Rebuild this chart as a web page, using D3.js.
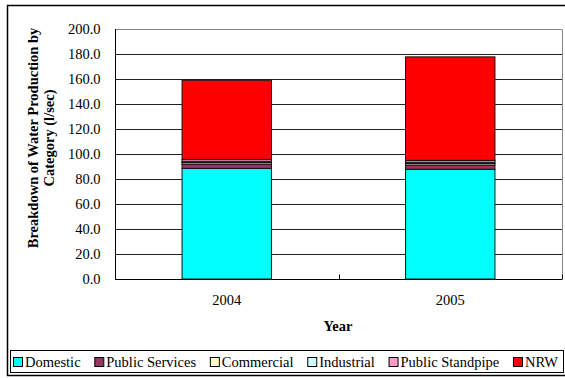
<!DOCTYPE html>
<html><head><meta charset="utf-8">
<script src="https://cdn.jsdelivr.net/npm/d3@7"></script>
<style>body{margin:0;background:#fff}svg{display:block}svg text{font-family:"Liberation Serif","Times New Roman","DejaVu Serif",serif !important}</style>
</head><body>
<svg id="c" width="565" height="378"></svg>
<script>
const years = ["2004", "2005"];
const categories = ["Domestic", "Public Services", "Commercial", "Industrial", "Public Standpipe", "NRW"];
const domestic = [88.5, 87.8];
const publicServices = [3.5, 3.4];
const commercial = [1.2, 1.2];
const industrial = [1.0, 1.0];
const publicStandpipe = [1.5, 1.5];
const nrw = [63.3, 82.8];
const yTicks = [0, 20, 40, 60, 80, 100, 120, 140, 160, 180, 200];
const colors = ["#00FFFF", "#993366", "#FFFFCC", "#CCFFFF", "#FF99CC", "#FF0000"];

const seriesVals = [domestic, publicServices, commercial, industrial, publicStandpipe, nrw];
const rows = years.map((y, i) => {
  const r = {year: y};
  categories.forEach((c, k) => r[c] = seriesVals[k][i]);
  return r;
});
const stacked = d3.stack().keys(categories)(rows);

const FS = 14.5;
const svg = d3.select("#c");
const L = 115, R = 562, T = 29, B = 279;

svg.append("rect").attr("x", 7.5).attr("y", 5.5).attr("width", 563).attr("height", 370)
  .attr("fill", "none").attr("stroke", "#000").attr("stroke-width", 1.5);

const x = d3.scaleBand().domain(years).range([L, R]).padding(0);
const y = d3.scaleLinear().domain([0, 200]).range([B, T]);

svg.append("g").selectAll("line").data(yTicks.filter(t => t > 0 && t < 200)).join("line")
  .attr("x1", L).attr("x2", R).attr("y1", d => Math.round(y(d)) + 0.5).attr("y2", d => Math.round(y(d)) + 0.5)
  .attr("stroke", "#222").attr("stroke-width", 1);

svg.append("path").attr("d", `M${L},${T + 0.5}H${R + 0.5}V${B}`).attr("fill", "none").attr("stroke", "#888").attr("stroke-width", 1);

const bw = x.bandwidth() * 0.4;
svg.append("g").selectAll("g").data(stacked).join("g")
  .attr("fill", (d, i) => colors[i])
  .selectAll("rect").data(d => d).join("rect")
  .attr("x", d => x(d.data.year) + (x.bandwidth() - bw) / 2)
  .attr("width", bw)
  .attr("y", d => y(d[1]))
  .attr("height", d => y(d[0]) - y(d[1]))
  .attr("stroke", "#111").attr("stroke-width", 1);

const yAxis = d3.axisLeft(y).tickValues(yTicks).tickFormat(d3.format(".1f")).tickSize(0).tickPadding(15);
const gy = svg.append("g").attr("transform", `translate(${L + 0.5},0)`).call(yAxis);
gy.attr("font-family", null).attr("font-size", null);
gy.select(".domain").attr("stroke", "#000").attr("d", `M0,${T}V${B + 0.5}`);
gy.selectAll("text").attr("font-size", FS).attr("fill", "#000");

const gx = svg.append("g").attr("transform", `translate(0,${B + 0.5})`);
gx.append("line").attr("x1", L).attr("x2", R).attr("stroke", "#000");
gx.selectAll("line.tk").data(d3.range(years.length + 1)).join("line").attr("class", "tk")
  .attr("x1", i => Math.round(L + i * x.step()) + 0.5).attr("x2", i => Math.round(L + i * x.step()) + 0.5)
  .attr("y1", 0).attr("y2", -5).attr("stroke", "#000");
gx.selectAll("text").data(years).join("text")
  .attr("x", d => x(d) + x.bandwidth() / 2).attr("y", 25)
  .attr("text-anchor", "middle").attr("font-size", FS).text(d => d);

svg.append("text").attr("x", 338).attr("y", 331).attr("text-anchor", "middle")
  .attr("font-size", FS).attr("font-weight", "bold").text("Year");
const yt = svg.append("text").attr("transform", "translate(38,138) rotate(-90)")
  .attr("text-anchor", "middle").attr("font-size", FS).attr("font-weight", "bold");
yt.append("tspan").attr("x", 0).attr("dy", 0).text("Breakdown of Water Production by");
yt.append("tspan").attr("x", 0).attr("dy", 16).text("Category (l/sec)");

svg.append("rect").attr("x", 10.5).attr("y", 350.5).attr("width", 553).attr("height", 22)
  .attr("fill", "#fff").attr("stroke", "#000").attr("stroke-width", 1);
const lg = svg.append("g").attr("transform", "translate(13,367)");
const items = [];
let used = 0;
categories.forEach((c, i) => {
  const g = lg.append("g");
  g.append("rect").attr("x", 0.5).attr("y", -9.5).attr("width", 9).attr("height", 9)
    .attr("fill", colors[i]).attr("stroke", "#000").attr("stroke-width", 1);
  const t = g.append("text").attr("x", 12).attr("y", 0).attr("font-size", FS).text(c);
  const w = 12 + t.node().getComputedTextLength();
  items.push({g, w});
  used += w;
});
const gap = (558 - 13 - used) / (items.length - 1);
let cx = 0;
items.forEach(it => { it.g.attr("transform", `translate(${cx},0)`); cx += it.w + gap; });
</script>
</body></html>
